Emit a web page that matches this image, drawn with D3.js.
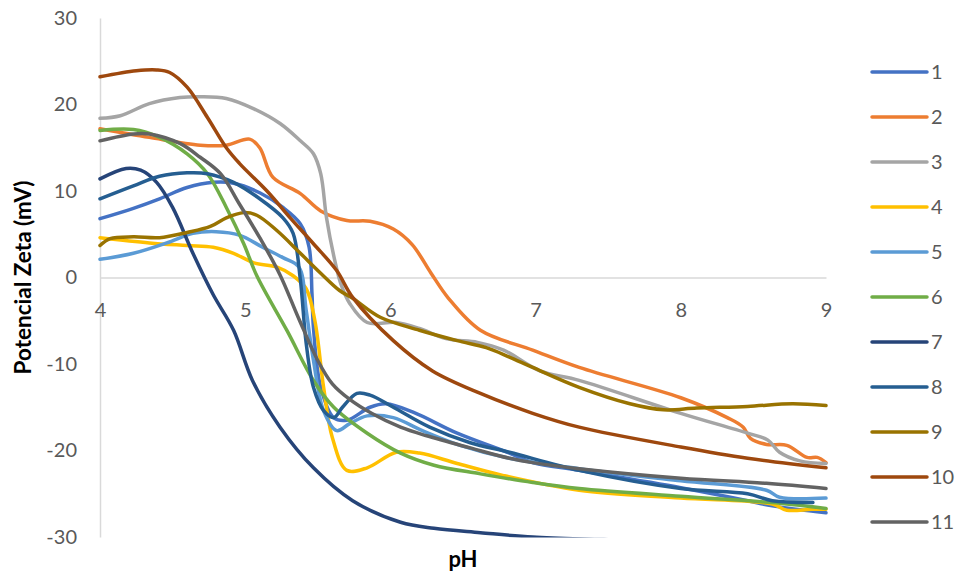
<!DOCTYPE html>
<html>
<head>
<meta charset="utf-8">
<script src="https://cdn.jsdelivr.net/npm/d3@7"></script>
<style>
  body { margin: 0; background: #fff; }
  svg text { font-family: Lato, "Open Sans", sans-serif; }
</style>
</head>
<body>
<svg id="chart" width="958" height="577"></svg>
<script>
// Zeta potential (mV) versus pH, one [pH, mV] list per sample
const s1 = [[4,6.8],[4.23,8.0],[4.41,9.1],[4.6,10.4],[4.78,11.0],[4.92,10.9],[5.1,9.8],[5.26,8.1],[5.38,6.2],[5.44,3.5],[5.46,-1.9],[5.47,-5.8],[5.52,-12.7],[5.61,-16.2],[5.7,-16.5],[5.86,-15.0],[5.97,-14.6],[6.16,-15.6],[6.46,-18.0],[6.82,-20.3],[6.98,-21.4],[7.3,-22.3],[8,-24.3],[8.46,-25.8],[8.63,-26.4],[9,-27.2]];
const s2 = [[4,17.2],[4.34,16.2],[4.69,15.3],[4.87,15.3],[5.03,16.0],[5.1,15.0],[5.19,11.6],[5.38,9.7],[5.52,7.7],[5.7,6.6],[5.86,6.5],[6.02,5.6],[6.15,3.8],[6.28,0.5],[6.4,-2.4],[6.62,-6.1],[6.98,-8.4],[7.3,-10.4],[8,-13.9],[8.32,-16.2],[8.43,-17.3],[8.48,-18.6],[8.59,-19.3],[8.73,-19.4],[8.87,-20.8],[8.94,-20.8],[9,-21.4]];
const s3 = [[4,18.4],[4.14,18.7],[4.34,20.1],[4.55,20.8],[4.69,20.9],[4.87,20.7],[5.06,19.5],[5.24,17.8],[5.38,15.8],[5.47,14.3],[5.52,12.0],[5.56,6.9],[5.61,2.5],[5.66,-0.8],[5.72,-3.0],[5.84,-5.2],[6.04,-5.2],[6.2,-5.9],[6.39,-7.1],[6.6,-7.5],[6.78,-8.4],[7.03,-10.8],[7.3,-11.9],[8,-15.7],[8.46,-18.0],[8.6,-18.8],[8.68,-20.2],[8.82,-21.2],[9,-21.5]];
const s4 = [[4,4.6],[4.34,4.0],[4.6,3.7],[4.78,3.5],[4.92,2.8],[5.06,1.7],[5.22,1.2],[5.33,0.2],[5.42,-1.3],[5.48,-5.0],[5.54,-12.7],[5.6,-18.5],[5.7,-22.3],[5.84,-22.0],[6.04,-20.2],[6.2,-20.3],[6.46,-21.5],[6.78,-22.9],[7.3,-24.6],[8,-25.5],[8.63,-26.2],[8.73,-26.9],[8.9,-26.8],[9,-26.8]];
const s5 = [[4,2.1],[4.23,2.8],[4.46,4.0],[4.64,5.1],[4.8,5.3],[4.96,4.9],[5.12,3.5],[5.26,2.3],[5.37,1.2],[5.42,-3.8],[5.47,-9.6],[5.54,-15.4],[5.63,-17.7],[5.72,-16.9],[5.84,-16.0],[6.02,-16.2],[6.22,-17.7],[6.48,-19.4],[6.82,-20.9],[7.3,-22.1],[8,-23.5],[8.59,-24.6],[8.68,-25.4],[9,-25.5]];
const s6 = [[4,17.0],[4.23,17.1],[4.41,16.2],[4.6,14.3],[4.74,12.0],[4.87,8.1],[4.99,3.9],[5.08,0.2],[5.29,-6.2],[5.47,-11.9],[5.61,-15.0],[5.84,-18.0],[6.07,-20.3],[6.3,-21.7],[6.62,-22.7],[6.98,-23.7],[7.3,-24.4],[8,-25.3],[8.68,-26.1],[9,-26.7]];
const s7 = [[4,11.4],[4.18,12.6],[4.28,12.4],[4.39,11.0],[4.5,8.1],[4.64,2.8],[4.78,-2.0],[4.92,-6.1],[5.05,-11.9],[5.24,-17.3],[5.47,-22.0],[5.74,-25.8],[6.07,-28.3],[6.3,-29.0],[6.62,-29.5],[6.98,-30.0],[7.47,-30.3],[8,-30.6],[9,-31.0]];
const s8 = [[4,9.1],[4.23,10.6],[4.41,11.7],[4.6,12.1],[4.74,12.0],[4.92,11.0],[5.1,9.1],[5.26,6.9],[5.33,5.1],[5.38,-0.3],[5.42,-7.6],[5.47,-12.7],[5.54,-15.4],[5.61,-16.2],[5.67,-15.0],[5.77,-13.4],[5.86,-13.6],[6.02,-15.0],[6.27,-17.3],[6.55,-19.1],[6.82,-20.2],[7.3,-22.3],[8,-24.4],[8.46,-25.0],[8.63,-25.8],[8.91,-26.0]];
const s9 = [[4,3.7],[4.07,4.5],[4.23,4.7],[4.41,4.6],[4.6,5.2],[4.76,5.9],[4.87,6.9],[4.99,7.5],[5.08,7.2],[5.22,5.4],[5.38,2.8],[5.52,0.5],[5.65,-1.5],[5.74,-2.4],[5.93,-4.6],[6.2,-6.1],[6.46,-7.3],[6.66,-8.1],[6.82,-9.2],[6.98,-10.4],[7.3,-12.7],[7.65,-14.6],[7.88,-15.3],[8.11,-15.1],[8.46,-14.9],[8.77,-14.6],[9,-14.8]];
const s10 = [[4,23.2],[4.25,23.9],[4.39,24.0],[4.48,23.7],[4.6,22.0],[4.74,18.5],[4.87,15.0],[4.96,13.2],[5.15,10.0],[5.31,6.9],[5.47,3.9],[5.63,0.8],[5.74,-2.3],[6.02,-7.3],[6.29,-10.8],[6.62,-13.4],[6.98,-15.7],[7.3,-17.3],[8,-19.6],[8.46,-20.9],[9,-22.0]];
const s11 = [[4,15.8],[4.23,16.6],[4.34,16.6],[4.55,15.5],[4.69,13.9],[4.83,12.0],[4.96,8.5],[5.1,4.6],[5.24,0.3],[5.37,-4.8],[5.5,-9.6],[5.6,-12.3],[5.72,-14.1],[5.87,-15.7],[6.07,-17.3],[6.25,-18.3],[6.55,-19.7],[6.82,-20.9],[6.98,-21.4],[7.3,-22.1],[8,-23.2],[8.59,-23.8],[9,-24.4]];

const seriesNames = ["1","2","3","4","5","6","7","8","9","10","11"];
const seriesColors = ["#4472C4","#ED7D31","#A5A5A5","#FFC000","#5B9BD5","#70AD47","#264478","#255E91","#997300","#9E480E","#636363"];
const seriesData = [s1,s2,s3,s4,s5,s6,s7,s8,s9,s10,s11];

const xTicks = [4,5,6,7,8,9];
const yTicks = [-30,-20,-10,0,10,20,30];
const xTitle = "pH";
const yTitle = "Potencial Zeta (mV)";

const svg = d3.select("#chart");
const x = d3.scaleLinear().domain([4, 9]).range([100, 826]);
const y = d3.scaleLinear().domain([-30, 30]).range([537, 18]);

const axisColor = "#d9d9d9";
const textColor = "#595959";
const plainNumber = d => String(d);

// y axis on the left edge
const yAxis = svg.append("g")
  .attr("transform", `translate(${x(4)},0)`)
  .call(d3.axisLeft(y).tickValues(yTicks).tickSize(0).tickPadding(23).tickFormat(plainNumber));
// x axis crossing at zero
const xAxis = svg.append("g")
  .attr("transform", `translate(0,${y(0)})`)
  .call(d3.axisBottom(x).tickValues(xTicks).tickSize(0).tickPadding(25).tickFormat(plainNumber));

[yAxis, xAxis].forEach(g => {
  g.select(".domain").attr("stroke", axisColor).attr("stroke-width", 1.5);
  g.selectAll("text").attr("fill", textColor).style("font-size", "20px").attr("font-family", null);
});

// clip curves to the bottom of the plot area
svg.append("clipPath").attr("id", "plotClip")
  .append("rect").attr("x", 0).attr("y", 0).attr("width", 958).attr("height", y(-30) + 0.5);

const line = d3.line()
  .x(d => x(d[0]))
  .y(d => y(d[1]))
  .curve(d3.curveCatmullRom.alpha(0.5));

svg.append("g").attr("clip-path", "url(#plotClip)")
  .selectAll("path")
  .data(seriesData)
  .join("path")
  .attr("d", line)
  .attr("fill", "none")
  .attr("stroke", (d, i) => seriesColors[i])
  .attr("stroke-width", 3.5)
  .attr("stroke-linejoin", "round")
  .attr("stroke-linecap", "round");

// axis titles
svg.append("text")
  .attr("x", (x(4) + x(9)) / 2)
  .attr("y", 567)
  .attr("text-anchor", "middle")
  .attr("font-weight", "bold")
  .style("font-size", "22px")
  .attr("fill", "#000")
  .text(xTitle);

svg.append("text")
  .attr("transform", `translate(31,${(y(30) + y(-30)) / 2}) rotate(-90)`)
  .attr("text-anchor", "middle")
  .attr("font-weight", "bold")
  .style("font-size", "22.5px")
  .attr("fill", "#000")
  .text(yTitle);

// legend
const legend = svg.append("g")
  .selectAll("g")
  .data(seriesNames)
  .join("g")
  .attr("transform", (d, i) => `translate(872,${72 + i * 45})`);

legend.append("line")
  .attr("x1", 0).attr("x2", 55)
  .attr("y1", 0).attr("y2", 0)
  .attr("stroke", (d, i) => seriesColors[i])
  .attr("stroke-width", 3.5)
  .attr("stroke-linecap", "round");

legend.append("text")
  .attr("x", 59)
  .attr("dy", "0.35em")
  .attr("fill", textColor)
  .style("font-size", "20px")
  .text(d => d);
</script>
</body>
</html>
